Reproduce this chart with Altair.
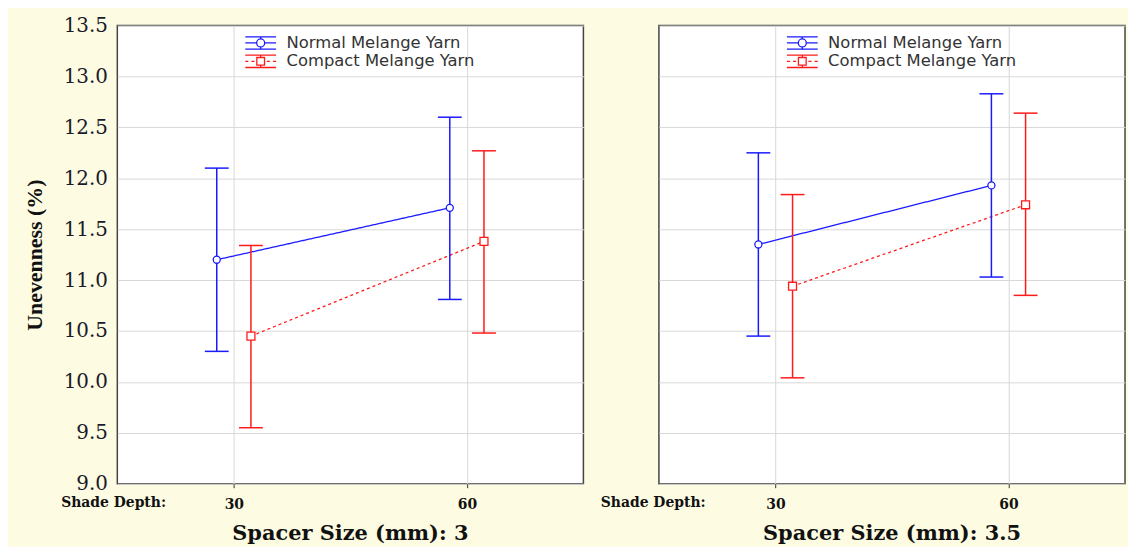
import altair as alt
import pandas as pd

# ---- data ----
shade_depth = [30, 60]
series_names = ["Normal Melange Yarn", "Compact Melange Yarn"]
spacer_sizes = ["3", "3.5"]

# spacer 3
normal_mean_3 = [11.20, 11.71]
normal_low_3 = [10.30, 10.81]
normal_high_3 = [12.10, 12.60]
compact_mean_3 = [10.45, 11.38]
compact_low_3 = [9.55, 10.48]
compact_high_3 = [11.34, 12.27]

# spacer 3.5
normal_mean_35 = [11.35, 11.93]
normal_low_35 = [10.45, 11.03]
normal_high_35 = [12.25, 12.83]
compact_mean_35 = [10.94, 11.74]
compact_low_35 = [10.04, 10.85]
compact_high_35 = [11.84, 12.64]

y_ticks = [9.0, 9.5, 10.0, 10.5, 11.0, 11.5, 12.0, 12.5, 13.0, 13.5]

rows = []
table = {
    ("3", series_names[0]): (normal_mean_3, normal_low_3, normal_high_3),
    ("3", series_names[1]): (compact_mean_3, compact_low_3, compact_high_3),
    ("3.5", series_names[0]): (normal_mean_35, normal_low_35, normal_high_35),
    ("3.5", series_names[1]): (compact_mean_35, compact_low_35, compact_high_35),
}
for (sp, s), (m, lo, hi) in table.items():
    for i, sd in enumerate(shade_depth):
        rows.append({"spacer": sp, "series": s, "shade": sd,
                     "mean": m[i], "low": lo[i], "high": hi[i]})
df = pd.DataFrame(rows)

BLUE = "#1a1aff"
RED = "#ff1a1a"
SERIF = "DejaVu Serif"

normal_path = ("M-2,-0.8H2M-2,0.8H2M-2,0H-0.52M0.52,0H2M0,-0.8V-0.52M0,0.52V0.8"
               "M-0.52,0A0.52,0.52 0 1,0 0.52,0A0.52,0.52 0 1,0 -0.52,0")
compact_path = ("M-2,-0.8H2M-2,0.8H2M-2,0H-1.6M-1.2,0H-0.8M0.8,0H1.2M1.6,0H2"
                "M0,-0.8V-0.5M0,0.5V0.8M-0.5,-0.5H0.5V0.5H-0.5Z")

color_scale = alt.Scale(domain=series_names, range=[BLUE, RED])
legend_def = alt.Legend(
    orient="none", legendX=135.75, legendY=9, title=None,
    symbolSize=240, symbolStrokeWidth=1.3, symbolOpacity=1,
    symbolFillColor="transparent",
    labelFont="DejaVu Sans", labelFontSize=16.5, labelColor="#333",
    labelLimit=400,
    labelOffset=17.5, rowPadding=-0.5, padding=0, offset=0)


def panel(sp, first, title_x):
    base = alt.Chart(df).transform_filter(alt.datum.spacer == sp).transform_calculate(
        xp=f"datum.shade + (datum.series == '{series_names[0]}' ? -2.2 : 2.2)"
    )
    x = alt.X(
        "xp:Q",
        scale=alt.Scale(domain=[15, 75], nice=False, zero=False),
        axis=alt.Axis(
            values=shade_depth, format="d", grid=True, gridColor="#d8d8d8",
            labelFont=SERIF, labelFontWeight="bold", labelFontSize=14,
            labelColor="#111", labelPadding=10, tickSize=4, tickColor="#333",
            domain=False,
            title="Shade Depth:", titleFont=SERIF, titleFontWeight="bold",
            titleFontSize=14, titleColor="#111", titleX=title_x, titleY=19,
            titleAnchor="start", titleAlign="left", titleBaseline="middle",
        ),
    )
    if first:
        yaxis = alt.Axis(
            values=y_ticks, format=".1f", grid=True, gridColor="#d8d8d8",
            labelFont=SERIF, labelFontSize=20, labelColor="#1a1a2a",
            labelPadding=10, ticks=False, domain=False,
            title="Unevenness (%)", titleFont="Liberation Serif",
            titleFontWeight="bold", titleFontSize=22, titleColor="#111",
            titlePadding=17,
        )
    else:
        yaxis = alt.Axis(values=y_ticks, grid=True, gridColor="#d8d8d8",
                         labels=False, ticks=False, domain=False, title=None)
    yscale = alt.Scale(domain=[9, 13.5], nice=False, zero=False)
    y = alt.Y("mean:Q", scale=yscale, axis=yaxis)
    color = alt.Color("series:N", scale=color_scale)

    line = base.mark_line(strokeWidth=1.3).encode(
        x=x, y=y, color=color,
        strokeDash=alt.StrokeDash("series:N", scale=alt.Scale(
            domain=series_names, range=[[1, 0], [3, 3]]), legend=None),
        detail="series:N",
    )
    stem = base.mark_rule(strokeWidth=1.5).encode(
        x="xp:Q", y=alt.Y("low:Q", scale=yscale), y2="high:Q", color=color)
    cap_lo = base.mark_rule(strokeWidth=1.5, xOffset=-12, x2Offset=12).encode(
        x="xp:Q", x2="xp:Q", y=alt.Y("low:Q", scale=yscale), color=color)
    cap_hi = base.mark_rule(strokeWidth=1.5, xOffset=-12, x2Offset=12).encode(
        x="xp:Q", x2="xp:Q", y=alt.Y("high:Q", scale=yscale), color=color)
    pts_n = base.transform_filter(alt.datum.series == series_names[0]).mark_point(
        shape="circle", size=50, filled=False, fill="white", fillOpacity=1,
        strokeWidth=1.3).encode(x="xp:Q", y=alt.Y("mean:Q", scale=yscale), color=color)
    pts_c = base.transform_filter(alt.datum.series == series_names[1]).mark_point(
        shape="square", size=64, filled=False, fill="white", fillOpacity=1,
        strokeWidth=1.3).encode(x="xp:Q", y=alt.Y("mean:Q", scale=yscale), color=color)
    leg = base.mark_point(opacity=0, filled=False).encode(
        x="xp:Q", y=alt.Y("mean:Q", scale=yscale),
        color=alt.Color("series:N", scale=color_scale, legend=legend_def),
        shape=alt.Shape("series:N", scale=alt.Scale(
            domain=series_names, range=[normal_path, compact_path]),
            legend=legend_def),
    )
    return alt.layer(line, stem, cap_lo, cap_hi, pts_n, pts_c, leg).properties(
        width=469, height=461,
        title=alt.TitleParams(
            text=f"Spacer Size (mm): {sp}", orient="bottom", anchor="middle",
            font=SERIF, fontSize=21, fontWeight="bold", color="#111", offset=12),
    )


chart = alt.hconcat(
    panel("3", True, -57),
    panel("3.5", False, -59),
    spacing=15,
).resolve_scale(color="independent", shape="independent").resolve_legend(
    color="independent", shape="independent"
).properties(
    background="#fdfbe2",
    padding={"left": 14, "top": 5, "right": 2, "bottom": 2},
).configure_view(
    fill="white", stroke="#444", strokeWidth=1.5
)

chart.save("out.html", embed_options={"renderer": "svg", "actions": False})
